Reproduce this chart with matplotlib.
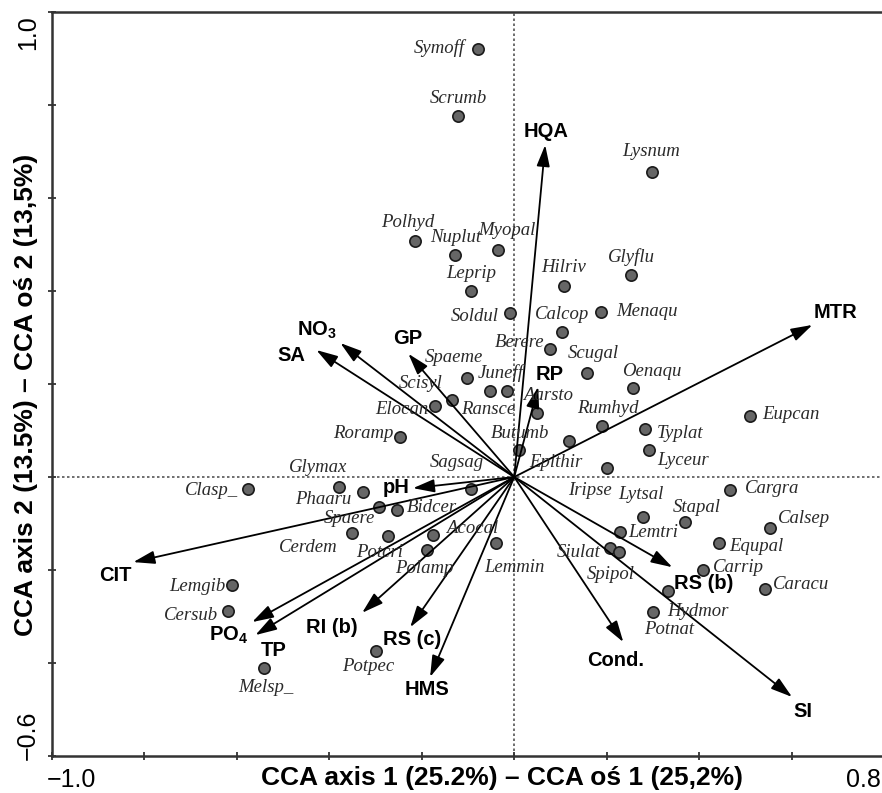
import matplotlib
matplotlib.use("Agg")
import matplotlib.pyplot as plt

plt.rcParams["mathtext.default"] = "regular"

# species scores (CCA axis 1, axis 2)
species = ["Symoff", "Scrumb", "Lysnum", "Polhyd", "Nuplut", "Myopal", "Leprip",
           "Hilriv", "Glyflu", "Soldul", "Calcop", "Menaqu", "Berere", "Scugal",
           "Oenaqu", "Spaeme", "Juneff", "Ransce", "Scisyl", "Elocan", "Aarsto",
           "Rumhyd", "Butumb", "Epithir", "Typlat", "Lyceur", "Eupcan", "Iripse",
           "Roramp", "Sagsag", "Glymax", "Clasp_", "Phaaru", "Spaere", "Bidcer",
           "Cerdem", "Potcri", "Acocal", "Polamp", "Lemmin", "Lemgib", "Cersub",
           "Melsp_", "Potpec", "Lytsal", "Lemtri", "Siulat", "Spipol", "Stapal",
           "Cargra", "Calsep", "Equpal", "Carrip", "Caracu", "Hydmor", "Potnat"]
species_x = [-0.078, -0.121, 0.299, -0.214, -0.128, -0.035, -0.093,
             0.108, 0.253, -0.009, 0.104, 0.188, 0.078, 0.158,
             0.257, -0.102, -0.015, -0.052, -0.134, -0.171, 0.050,
             0.190, 0.011, 0.119, 0.283, 0.292, 0.511, 0.201,
             -0.247, -0.093, -0.379, -0.576, -0.327, -0.292, -0.253,
             -0.350, -0.273, -0.175, -0.188, -0.039, -0.610, -0.619,
             -0.541, -0.299, 0.279, 0.229, 0.208, 0.227, 0.370,
             0.467, 0.554, 0.444, 0.409, 0.543, 0.333, 0.301]
species_y = [0.920, 0.776, 0.656, 0.508, 0.477, 0.488, 0.400,
             0.411, 0.434, 0.353, 0.312, 0.355, 0.275, 0.224,
             0.191, 0.213, 0.185, 0.185, 0.166, 0.153, 0.138,
             0.110, 0.058, 0.077, 0.103, 0.058, 0.131, 0.019,
             0.086, -0.026, -0.022, -0.026, -0.032, -0.065, -0.071,
             -0.120, -0.127, -0.125, -0.157, -0.142, -0.232, -0.288,
             -0.411, -0.374, -0.086, -0.118, -0.153, -0.161, -0.097,
             -0.028, -0.110, -0.142, -0.200, -0.241, -0.245, -0.290]

# environmental variables (arrow tips)
env_vars = ["HQA", "MTR", "NO$_3$", "SA", "GP", "RP", "pH", "CIT", "PO$_4$", "TP",
            "RI (b)", "RS (c)", "HMS", "Cond.", "RS (b)", "SI"]
env_x = [0.067, 0.645, -0.376, -0.428, -0.229, 0.052, -0.219, -0.824, -0.567, -0.560,
         -0.329, -0.225, -0.182, 0.236, 0.342, 0.601]
env_y = [0.714, 0.327, 0.288, 0.273, 0.265, 0.194, -0.024, -0.183, -0.312, -0.340,
         -0.292, -0.323, -0.430, -0.355, -0.194, -0.473]

# label placement, pixels from the point / arrow tip
species_offsets = [(-39, 1), (0, 18), (-1, 20), (-8, 18), (1, 18), (9, 20), (0, 18),
                   (-1, 18), (0, 18), (-35, -4), (0, 17), (46, 0), (-31, 7), (6, 19),
                   (19, 17), (-13, 20), (-7, 18), (-2, -19), (-32, 16), (-33, -4), (11, 17),
                   (6, 17), (1, 17), (-13, -21), (35, -4), (34, -10), (40, 2), (-17, -22),
                   (-37, 4), (-14, 27), (-21, 20), (-36, -1), (-40, -8), (-30, -11), (35, 3),
                   (-44, -15), (-8, -16), (39, 7), (-3, -18), (18, -24), (-35, -2), (-37, -5),
                   (2, -19), (-8, -16), (-2, 22), (33, -1), (-32, -4), (-8, -23), (12, 15),
                   (42, 2), (34, 10), (37, -3), (35, 3), (36, 5), (30, -21), (16, -18)]
env_offsets = [(1, 13), (23, 12), (-24, 13), (-25, -5), (-1, 15), (11, 12), (-17, 1),
               (-18, -13), (-24, -13), (18, -15), (-30, -15), (2, -12), (-3, -13),
               (-8, -18), (31, -16), (11, -15)]

fig = plt.figure(figsize=(8.82, 7.93), dpi=100)
ax = fig.add_axes([52 / 882, 37 / 793, 832 / 882, 744 / 793])
ax.set_xlim(-1.0, 0.8)
ax.set_ylim(-0.6, 1.0)

ax.axhline(0, color="#555555", lw=1.2, ls=(0, (1.5, 1.5)), zorder=1)
ax.axvline(0, color="#555555", lw=1.2, ls=(0, (1.5, 1.5)), zorder=1)

ax.scatter(species_x, species_y, s=66, c="#666666", edgecolors="#1a1a1a",
           linewidths=1.2, zorder=2)

for name, x, y, (dx, dy) in zip(env_vars, env_x, env_y, env_offsets):
    ax.annotate("", xy=(x, y), xytext=(0, 0),
                arrowprops=dict(arrowstyle="-|>,head_length=0.65,head_width=0.2",
                                mutation_scale=20, lw=1.3, color="black",
                                shrinkA=0, shrinkB=0), zorder=3)
    ax.annotate(name, xy=(x, y), xytext=(dx, dy), textcoords="offset pixels",
                ha="center", va="center", fontsize=14.5, fontweight="bold",
                family="Liberation Sans", zorder=4)

for name, x, y, (dx, dy) in zip(species, species_x, species_y, species_offsets):
    ax.annotate(name, xy=(x, y), xytext=(dx, dy), textcoords="offset pixels",
                ha="center", va="center", fontsize=13.5, style="italic",
                family="Liberation Serif", color="#2a2a2a", zorder=4)

# axes frame
for side in ["left", "bottom", "top"]:
    ax.spines[side].set_linewidth(1.8)
    ax.spines[side].set_color("#333333")
ax.spines["right"].set_visible(False)

xt = [-1.0 + 0.2 * i for i in range(10)]
yt = [-0.6 + 0.2 * i for i in range(9)]
ax.set_xticks(xt)
ax.set_yticks(yt)
ax.set_xticklabels([])
ax.set_yticklabels([])
ax.tick_params(direction="inout", length=6, width=1.3, color="#333333")

tick_font = dict(fontsize=18, family="Liberation Sans")
ax.annotate("\u22121.0", xy=(-1.0, 0), xycoords=("data", "axes fraction"),
            xytext=(-5, -24), textcoords="offset pixels", ha="left", va="center", **tick_font)
ax.annotate("0.8", xy=(0.8, 0), xycoords=("data", "axes fraction"),
            xytext=(-3, -24), textcoords="offset pixels", ha="right", va="center", **tick_font)
ax.annotate("1.0", xy=(0, 1.0), xycoords=("axes fraction", "data"),
            xytext=(-24, -3), textcoords="offset pixels", ha="center", va="top",
            rotation=90, **tick_font)
ax.annotate("\u22120.6", xy=(0, -0.6), xycoords=("axes fraction", "data"),
            xytext=(-24, -4), textcoords="offset pixels", ha="center", va="bottom",
            rotation=90, **tick_font)

label_font = dict(fontsize=19, fontweight="bold", family="Liberation Sans")
ax.text(0.5409, -0.0296, "CCA axis 1 (25.2%) \u2013 CCA o\u015b 1 (25,2%)",
        transform=ax.transAxes, ha="center", va="center", **label_font)
ax.text(-0.0313, 0.4852, "CCA axis 2 (13.5%) \u2013 CCA o\u015b 2 (13,5%)",
        transform=ax.transAxes, ha="center", va="center", rotation=90, **label_font)

fig.savefig("out.png", dpi=100)
